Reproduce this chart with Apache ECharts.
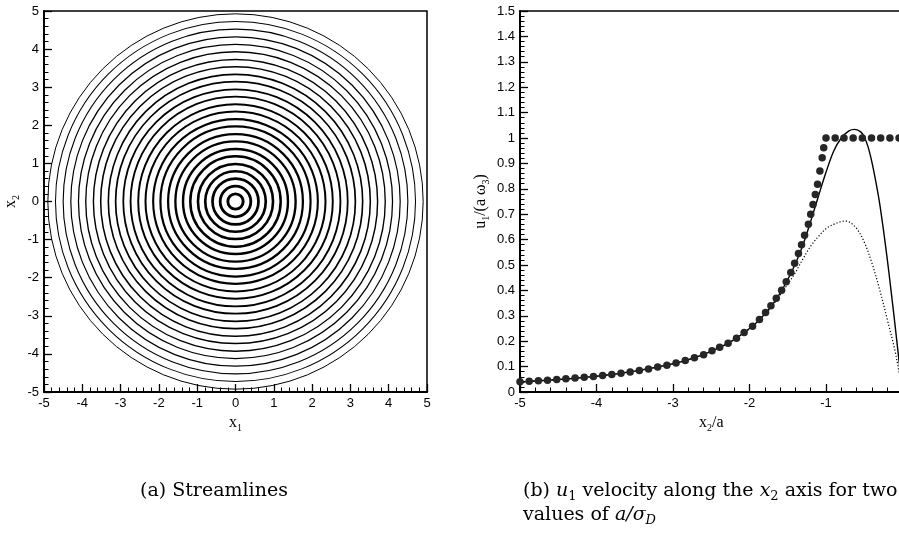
<!DOCTYPE html>
<html><head><meta charset="utf-8">
<script src="https://cdn.jsdelivr.net/npm/echarts@6/dist/echarts.min.js"></script>
<style>html,body{margin:0;padding:0;background:#fff}#c{width:899px;height:538px}</style>
</head><body><div id="c"></div>
<script>
// ---- data ----
const radii = [0.2, 0.4, 0.6, 0.79, 0.98, 1.18, 1.37, 1.57, 1.76, 1.96, 2.15, 2.35, 2.54, 2.74, 2.93, 3.13, 3.32, 3.52, 3.71, 3.91, 4.1, 4.3, 4.5, 4.7, 4.9];

const dotX = [-5, -4.88, -4.76, -4.64, -4.52, -4.40, -4.28, -4.16, -4.04, -3.92, -3.80, -3.68, -3.56, -3.44, -3.32, -3.20, -3.08, -2.96, -2.84, -2.72, -2.60, -2.49, -2.39, -2.28, -2.17, -2.07, -1.96, -1.87, -1.79, -1.72, -1.65, -1.58, -1.52, -1.46, -1.41, -1.36, -1.32, -1.28, -1.23, -1.20, -1.17, -1.14, -1.11, -1.08, -1.05, -1.03, -1.0, -0.88, -0.765, -0.645, -0.525, -0.405, -0.285, -0.165, -0.045];
const dotY = [0.040, 0.042, 0.044, 0.046, 0.049, 0.052, 0.055, 0.058, 0.061, 0.065, 0.069, 0.074, 0.079, 0.085, 0.091, 0.098, 0.105, 0.114, 0.124, 0.135, 0.147, 0.162, 0.176, 0.192, 0.212, 0.234, 0.259, 0.285, 0.313, 0.340, 0.369, 0.401, 0.434, 0.470, 0.507, 0.545, 0.580, 0.617, 0.660, 0.700, 0.738, 0.778, 0.818, 0.870, 0.922, 0.962, 1.0, 1.0, 1.0, 1.0, 1.0, 1.0, 1.0, 1.0, 1.0];

const solidX = [-5, -4.5, -4, -3.5, -3, -2.75, -2.5, -2.25, -2, -1.9, -1.8, -1.7, -1.6, -1.5, -1.4, -1.3, -1.2, -1.1, -1.0, -0.9, -0.8, -0.7, -0.63, -0.55, -0.5, -0.45, -0.4, -0.35, -0.3, -0.25, -0.2, -0.15, -0.1, -0.05, 0];
const solidY = [0.040, 0.049, 0.062, 0.082, 0.111, 0.132, 0.160, 0.197, 0.250, 0.276, 0.307, 0.344, 0.389, 0.443, 0.505, 0.580, 0.672, 0.770, 0.865, 0.948, 1.000, 1.028, 1.034, 1.025, 1.005, 0.965, 0.905, 0.830, 0.745, 0.640, 0.525, 0.400, 0.270, 0.135, 0.0];

const dottedX = [-5, -4.5, -4, -3.5, -3, -2.75, -2.5, -2.25, -2, -1.9, -1.8, -1.7, -1.6, -1.5, -1.4, -1.3, -1.2, -1.1, -1.0, -0.9, -0.8, -0.75, -0.7, -0.6, -0.5, -0.4, -0.3, -0.2, -0.1, -0.05, 0];
const dottedY = [0.040, 0.049, 0.062, 0.082, 0.111, 0.132, 0.160, 0.197, 0.249, 0.275, 0.305, 0.340, 0.381, 0.425, 0.470, 0.525, 0.574, 0.612, 0.643, 0.660, 0.671, 0.673, 0.670, 0.644, 0.590, 0.508, 0.405, 0.287, 0.165, 0.085, 0.0];

const leftTicks = {min: -5, max: 5, interval: 1};
const rightXTicks = {min: -5, max: 0, interval: 1};
const rightYTicks = {min: 0, max: 1.5, interval: 0.1};

// ---- chart ----
const chart = echarts.init(document.getElementById('c'), null, {renderer: 'canvas'});
const sans = 'Liberation Sans, Arial, sans-serif';
const serif = 'Liberation Serif, Times New Roman, serif';
const capSerif = 'DejaVu Serif, serif';

const labelStyle = {color: '#000', fontFamily: sans, fontSize: 13};
function axisCommon(extra) {
  return Object.assign({
    axisLine: {show: true, onZero: false, lineStyle: {color: '#000', width: 2}},
    axisTick: {show: true, inside: true, length: 8, lineStyle: {color: '#000', width: 1.3}},
    minorTick: {show: true, splitNumber: 5, length: 4.5, lineStyle: {color: '#000', width: 1}},
    splitLine: {show: false},
    axisLabel: Object.assign({margin: 5, showMaxLabel: true, showMinLabel: true}, labelStyle)
  }, extra);
}
const nameRich = {
  n: {fontFamily: serif, fontSize: 16, color: '#000', lineHeight: 20, verticalAlign: 'middle'},
  s: {fontFamily: serif, fontSize: 10, color: '#000', lineHeight: 11, verticalAlign: 'bottom'}
};
const capRich = {
  t: {fontFamily: capSerif, fontSize: 19, fill: '#000', lineHeight: 24, verticalAlign: 'middle'},
  i: {fontFamily: capSerif, fontStyle: 'italic', fontSize: 19, fill: '#000', lineHeight: 24, verticalAlign: 'middle'},
  s: {fontFamily: capSerif, fontSize: 13, fill: '#000', lineHeight: 14, verticalAlign: 'bottom'},
  si: {fontFamily: capSerif, fontStyle: 'italic', fontSize: 13, fill: '#000', lineHeight: 14, verticalAlign: 'bottom'}
};

const option = {
  backgroundColor: '#fff',
  animation: false,
  grid: [
    {left: 44, top: 11, width: 383, height: 381, show: true, borderColor: '#000', borderWidth: 1.5, containLabel: false, outerBoundsMode: 'none'},
    {left: 520, top: 11, width: 382.5, height: 381, show: true, borderColor: '#000', borderWidth: 1.5, containLabel: false, outerBoundsMode: 'none'}
  ],
  xAxis: [
    axisCommon({type: 'value', gridIndex: 0, min: leftTicks.min, max: leftTicks.max, interval: leftTicks.interval,
      name: '{n|x}{s|1}', nameLocation: 'middle', nameGap: 17, nameTextStyle: {rich: nameRich}}),
    axisCommon({type: 'value', gridIndex: 1, min: rightXTicks.min, max: rightXTicks.max, interval: rightXTicks.interval,
      name: '{n|x}{s|2}{n|/a}', nameLocation: 'middle', nameGap: 20, nameTextStyle: {rich: nameRich}})
  ],
  yAxis: [
    axisCommon({type: 'value', gridIndex: 0, min: leftTicks.min, max: leftTicks.max, interval: leftTicks.interval,
      name: '{n|x}{s|2}', nameLocation: 'middle', nameGap: 23, nameTextStyle: {rich: nameRich}}),
    axisCommon({type: 'value', gridIndex: 1, min: rightYTicks.min, max: rightYTicks.max, interval: rightYTicks.interval,
      name: '{n|u}{s|1}{n|/(a ω}{s|3}{n|)}', nameLocation: 'middle', nameGap: 29, nameTextStyle: {rich: nameRich}})
  ],
  series: [
    {
      type: 'custom', xAxisIndex: 0, yAxisIndex: 0, coordinateSystem: 'cartesian2d',
      data: radii.map(r => [0, 0, r]),
      encode: {x: 0, y: 1},
      clip: true,
      renderItem: function (params, api) {
        const c = api.coord([api.value(0), api.value(1)]);
        const r = api.value(2);
        const rp = api.size([r, 0])[0];
        const lw = Math.max(1, 3.0 - 0.42 * r);
        return {type: 'circle', shape: {cx: c[0], cy: c[1], r: rp},
          style: {fill: null, stroke: '#000', lineWidth: lw}};
      }
    },
    {
      type: 'line', xAxisIndex: 1, yAxisIndex: 1, showSymbol: false, smooth: 0.35,
      data: dottedX.map((x, i) => [x, dottedY[i]]),
      lineStyle: {color: '#000', width: 1.2, type: [1.2, 2]}, z: 3
    },
    {
      type: 'line', xAxisIndex: 1, yAxisIndex: 1, showSymbol: false, smooth: 0.35,
      data: solidX.map((x, i) => [x, solidY[i]]),
      lineStyle: {color: '#000', width: 1.4}, z: 4
    },
    {
      type: 'scatter', xAxisIndex: 1, yAxisIndex: 1, symbol: 'circle', symbolSize: 7.5,
      data: dotX.map((x, i) => [x, dotY[i]]),
      itemStyle: {color: '#262626', opacity: 1}, z: 5
    }
  ],
  graphic: [
    {type: 'text', left: 140, top: 482, style: {text: '{t|(a) Streamlines}', rich: capRich}},
    {type: 'text', left: 523, top: 482, style: {
      text: '{t|(b) }{i|u}{s|1}{t| velocity along the }{i|x}{s|2}{t| axis for two}', rich: capRich}},
    {type: 'text', left: 523, top: 506, style: {text: '{t|values of }{i|a/σ}{si|D}', rich: capRich}}
  ]
};
chart.setOption(option);
</script></body></html>
